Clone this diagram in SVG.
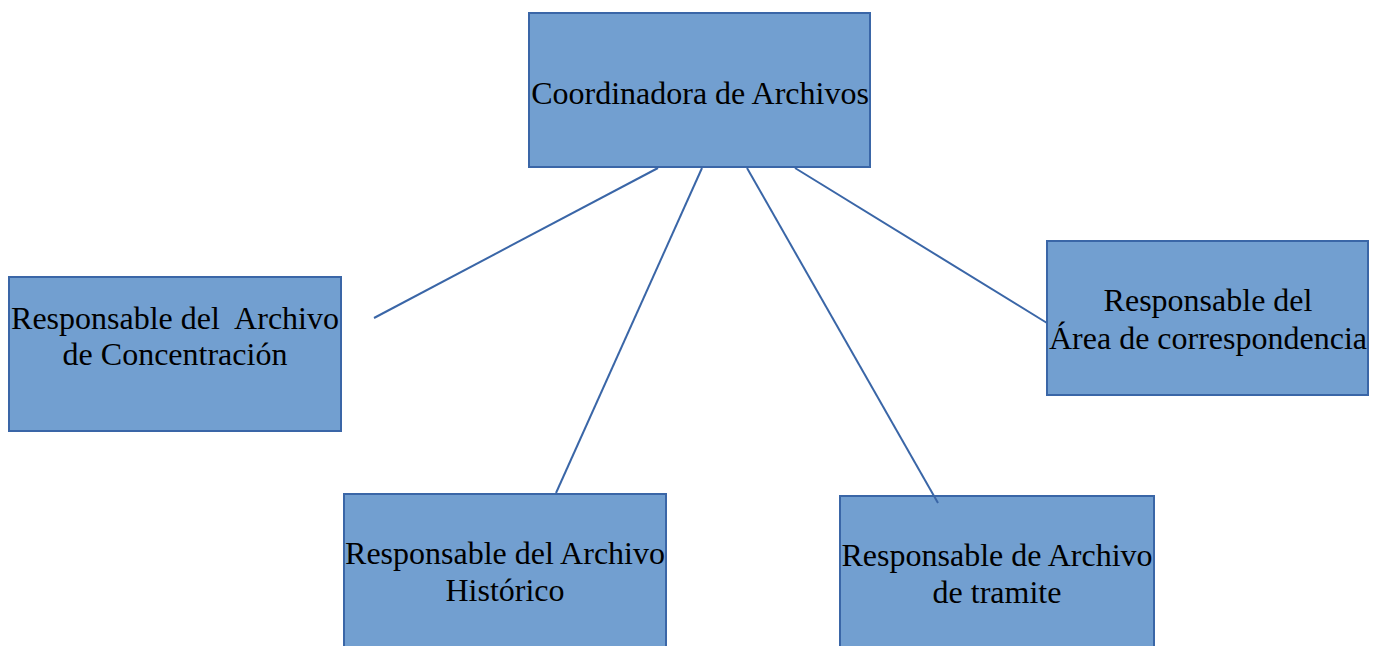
<svg xmlns="http://www.w3.org/2000/svg" width="1374" height="646" viewBox="0 0 1374 646">
<style>
.box{fill:#729FD0;stroke:#3A66A7;stroke-width:2}
.lbl{font-family:"Liberation Serif","Times New Roman",serif;font-size:32px;fill:#000;text-anchor:middle}
.con{stroke:#3A66A7;stroke-width:2;fill:none}
</style>
<rect width="1374" height="646" fill="#fff"/>
<g id="coordinadora">
<rect class="box" x="529" y="13" width="341" height="154"/>
<text class="lbl" x="700" y="104">Coordinadora de Archivos</text>
</g>
<g id="concentracion">
<rect class="box" x="9" y="277" width="332" height="154"/>
<text class="lbl" x="175" y="329" xml:space="preserve">Responsable del  Archivo</text>
<text class="lbl" x="175" y="365">de Concentración</text>
</g>
<g id="correspondencia">
<rect class="box" x="1047" y="241" width="321" height="154"/>
<text class="lbl" x="1208" y="311">Responsable del</text>
<text class="lbl" x="1208" y="349">Área de correspondencia</text>
</g>
<g id="historico">
<rect class="box" x="344" y="494" width="322" height="160"/>
<text class="lbl" x="505" y="564">Responsable del Archivo</text>
<text class="lbl" x="505" y="601">Histórico</text>
</g>
<g id="tramite">
<rect class="box" x="840" y="496" width="314" height="160"/>
<text class="lbl" x="997" y="566">Responsable de Archivo</text>
<text class="lbl" x="997" y="603">de tramite</text>
</g>
<g id="connectors">
<line class="con" x1="658" y1="168" x2="374" y2="318"/>
<line class="con" x1="702" y1="168" x2="556" y2="493"/>
<line class="con" x1="747" y1="168" x2="938" y2="503"/>
<line class="con" x1="795" y1="168" x2="1047" y2="323"/>
</g>
</svg>
